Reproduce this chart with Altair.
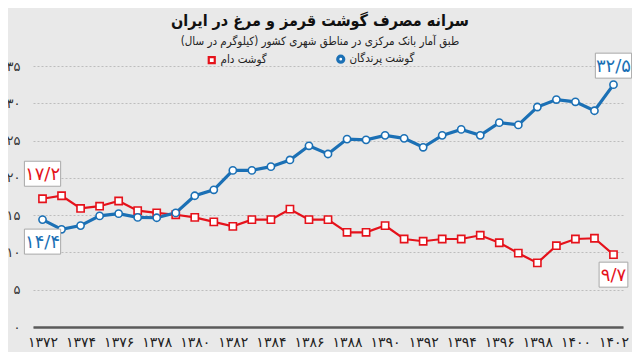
import altair as alt
import pandas as pd

years = list(range(1372, 1403))
poultry = [14.4, 13.1, 13.6, 14.9, 15.2, 14.7, 14.65, 15.3, 17.6, 18.4, 21.0, 21.0, 21.5, 22.4,
           24.3, 23.2, 25.2, 25.1, 25.7, 25.3, 24.1, 25.7, 26.5, 25.7, 27.4, 27.1, 29.5, 30.5,
           30.2, 29.0, 32.5]
livestock = [17.2, 17.6, 15.9, 16.2, 16.9, 15.6, 15.3, 15.05, 14.7, 14.1, 13.5, 14.4, 14.4, 15.8,
             14.4, 14.4, 12.7, 12.7, 13.6, 11.8, 11.5, 11.8, 11.8, 12.3, 11.3, 9.9, 8.6, 10.9,
             11.8, 11.9, 9.7]
series_names = ["گوشت دام", "گوشت پرندگان"]
series_colors = ["#e5121b", "#1b70b5"]
x_ticks = list(range(1372, 1403, 2))
y_ticks = list(range(0, 36, 5))
title_text = "سرانه مصرف گوشت قرمز و مرغ در ایران"
subtitle_text = "طبق آمار بانک مرکزی در مناطق شهری کشور (کیلوگرم در سال)"

FA = "۰۱۲۳۴۵۶۷۸۹"
FONT = "DejaVu Sans"
FONT_C = "DejaVu Sans Condensed, DejaVu Sans"


def fa_num(v):
    s = f"{v:.1f}"
    return "".join(FA[int(c)] if c.isdigit() else "/" for c in s)


def fa_expr(src):
    e = src
    for i, d in enumerate(FA):
        e = f"replace({e}, regexp('{i}', 'g'), '{d}')"
    return e


rows = []
for y, p, l in zip(years, poultry, livestock):
    rows.append({"year": y, "value": l, "series": series_names[0]})
    rows.append({"year": y, "value": p, "series": series_names[1]})
df = pd.DataFrame(rows)

color_scale = alt.Scale(domain=series_names, range=series_colors)
shape_scale = alt.Scale(domain=series_names, range=["square", "circle"])
legend_spec = alt.Legend(title=None, orient="none", legendX=173, legendY=-13,
                         direction="horizontal", columnPadding=64,
                         labelFontSize=11.5, labelFont=FONT_C, labelColor="#222222",
                         symbolFillColor="white", symbolStrokeWidth=1.6,
                         symbolSize=36, labelOffset=3, padding=0)

x_enc = alt.X("year:Q", scale=alt.Scale(domain=[1371.5, 1402.5], nice=False, zero=False),
              axis=alt.Axis(values=x_ticks, tickCount=40, format="d",
                            labelExpr=fa_expr("datum.label"),
                            grid=False, ticks=False, domainColor="#5a5a5a", domainWidth=2.5,
                            labelFontSize=14, labelColor="#222222", labelPadding=8,
                            labelFont=FONT, labelOverlap=False, labelBound=False, title=None))
y_enc = alt.Y("value:Q", scale=alt.Scale(domain=[0, 35], nice=False),
              axis=alt.Axis(values=y_ticks, tickCount=40, format="d",
                            labelExpr=fa_expr("datum.label"),
                            domain=False, ticks=False, gridColor="#bdbdbd", gridDash=[2, 2],
                            gridWidth=1, labelFontSize=13, labelColor="#333333",
                            labelPadding=13, labelFont=FONT, labelOverlap=False,
                            labelBound=False, title=None))

base = alt.Chart(df)
lines = base.mark_line().encode(
    x=x_enc, y=y_enc,
    color=alt.Color("series:N", scale=color_scale, legend=legend_spec),
    strokeWidth=alt.StrokeWidth("series:N", scale=alt.Scale(domain=series_names, range=[2.2, 3.2]),
                                legend=None),
)
points = base.mark_point(fill="white", filled=False, opacity=1, strokeWidth=1.6, size=52).encode(
    x=x_enc, y=y_enc,
    color=alt.Color("series:N", scale=color_scale, legend=legend_spec),
    shape=alt.Shape("series:N", scale=shape_scale, legend=legend_spec),
)

annotations = [
    (series_names[0], years[0], livestock[0], -25),
    (series_names[1], years[0], poultry[0], 22),
    (series_names[1], years[-1], poultry[-1], -19),
    (series_names[0], years[-1], livestock[-1], 20),
]
ann_layers = []
for name, yr, val, off in annotations:
    col = series_colors[series_names.index(name)]
    label = fa_num(val)
    half = 1.45 if len(label) >= 4 else 1.15
    adf = pd.DataFrame([{"year": yr, "value": val, "label": label}])
    box = alt.Chart(adf).mark_point(
        shape=f"M-{half},-1H{half}V1H-{half}Z", size=625, filled=True, fill="white",
        stroke="#a8a8a8", strokeWidth=1, opacity=1, yOffset=off,
    ).encode(x=alt.X("year:Q"), y=alt.Y("value:Q"))
    txt = alt.Chart(adf).mark_text(
        font=FONT, fontSize=18, color=col, yOffset=off + 1,
        baseline="middle", align="center",
    ).encode(x=alt.X("year:Q"), y=alt.Y("value:Q"), text="label:N")
    ann_layers += [box, txt]

chart = alt.layer(lines, points, *ann_layers).properties(
    width=590, height=261,
    padding={"left": 25, "top": 58, "right": 9, "bottom": 25},
    autosize=alt.AutoSizeParams(type="none"),
    title=alt.Title(title_text, subtitle=subtitle_text, anchor="middle", dx=-8, offset=4,
                    font=FONT_C, fontSize=16, fontWeight="bold", color="#111111",
                    subtitleFont=FONT_C, subtitleFontSize=11.5, subtitleColor="#222222",
                    subtitlePadding=7),
).configure(background="#e9e9e9").configure_view(stroke=None)

chart.save("out.html", embed_options={"renderer": "svg", "actions": False})
